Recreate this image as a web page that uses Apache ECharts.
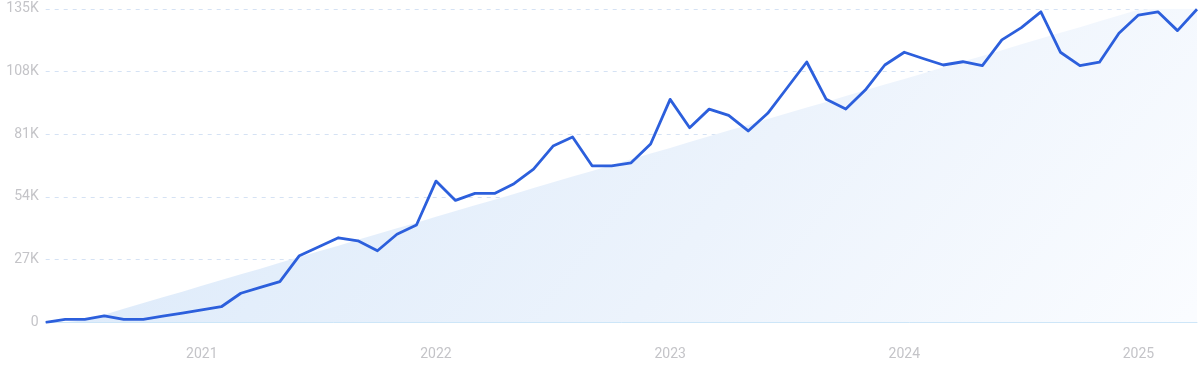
<!DOCTYPE html>
<html>
<head>
<meta charset="utf-8">
<script src="https://cdn.jsdelivr.net/npm/echarts@6/dist/echarts.min.js"></script>
<style>
html,body{margin:0;padding:0;background:#fff;}
#chart{width:1200px;height:371px;}
</style>
</head>
<body>
<div id="chart"></div>
<script>
const months = [
  '2020-05','2020-06','2020-07','2020-08','2020-09','2020-10','2020-11','2020-12',
  '2021-01','2021-02','2021-03','2021-04','2021-05','2021-06','2021-07','2021-08','2021-09','2021-10','2021-11','2021-12',
  '2022-01','2022-02','2022-03','2022-04','2022-05','2022-06','2022-07','2022-08','2022-09','2022-10','2022-11','2022-12',
  '2023-01','2023-02','2023-03','2023-04','2023-05','2023-06','2023-07','2023-08','2023-09','2023-10','2023-11','2023-12',
  '2024-01','2024-02','2024-03','2024-04','2024-05','2024-06','2024-07','2024-08','2024-09','2024-10','2024-11','2024-12',
  '2025-01','2025-02','2025-03','2025-04'
];
const searches = [
  0, 1300, 1300, 2800, 1300, 1300, 2650, 4000,
  5350, 6700, 12500, 15000, 17500, 28700, 32500, 36400, 35100, 30800, 37900, 41900,
  60800, 52500, 55500, 55500, 59700, 66000, 75900, 79800, 67400, 67400, 68700, 76800,
  96000, 83800, 91800, 89100, 82400, 90000, 101000, 112100, 96000, 91800, 100000, 110800,
  116300, 113500, 110800, 112200, 110500, 121600, 126900, 133700, 116300, 110500, 112000, 124500,
  132300, 133700, 125600, 134800
];
const trend = [
  0, 0, 900, 3300, 5800, 8300, 10800, 13200,
  15700, 18200, 20700, 23100, 25600, 28100, 30600, 33000, 35500, 38000, 40500, 42900,
  45400, 47900, 50400, 52800, 55300, 57800, 60300, 62800, 65200, 67700, 70200, 72700,
  75100, 77600, 80100, 82600, 85000, 87500, 90000, 92500, 94900, 97400, 99900, 102400,
  104800, 107300, 109800, 112300, 114700, 117200, 119700, 122200, 124700, 127100, 129600, 132100,
  134600, 135000, 135000, 135000
];
const yTicks = [0, 27000, 54000, 81000, 108000, 135000];

const chart = echarts.init(document.getElementById('chart'), null, {renderer: 'canvas'});
chart.setOption({
  animation: false,
  backgroundColor: '#ffffff',
  grid: {left: 45.7, right: 3, top: 8.8, bottom: 48.7, containLabel: false},
  xAxis: {
    type: 'category',
    data: months,
    boundaryGap: false,
    axisLine: {show: true, lineStyle: {color: '#cbe5f8', width: 1}},
    axisTick: {show: false},
    splitLine: {show: false},
    axisLabel: {
      interval: (i, v) => v.endsWith('-01'),
      formatter: v => v.slice(0, 4),
      color: '#c4c4c8',
      fontFamily: 'Roboto',
      fontSize: 14,
      margin: 25
    }
  },
  yAxis: {
    type: 'value',
    min: yTicks[0],
    max: yTicks[yTicks.length - 1],
    interval: yTicks[1] - yTicks[0],
    axisLine: {show: false},
    axisTick: {show: false},
    splitLine: {show: true, lineStyle: {color: '#d5e2f4', type: [4, 5], width: 1}},
    axisLabel: {
      formatter: v => v === 0 ? '0' : (v / 1000) + 'K',
      color: '#c4c4c8',
      fontFamily: 'Roboto',
      fontSize: 14,
      margin: 7
    }
  },
  series: [
    {
      name: 'trend',
      type: 'line',
      data: trend,
      symbol: 'none',
      silent: true,
      lineStyle: {width: 0, opacity: 0},
      areaStyle: {
        color: {
          type: 'linear', x: 45, y: 0, x2: 1200, y2: 900, global: true,
          colorStops: [
            {offset: 0, color: 'rgb(216,231,249)'},
            {offset: 0.24, color: 'rgb(227,238,251)'},
            {offset: 0.45, color: 'rgb(236,243,252)'},
            {offset: 0.75, color: 'rgb(250,252,255)'},
            {offset: 1, color: 'rgb(255,255,255)'}
          ]
        },
        opacity: 1
      },
      z: 1
    },
    {
      name: 'searches',
      type: 'line',
      data: searches,
      symbol: 'none',
      lineStyle: {color: '#2c5fdc', width: 2.8, join: 'round'},
      z: 3
    }
  ]
});
</script>
</body>
</html>
